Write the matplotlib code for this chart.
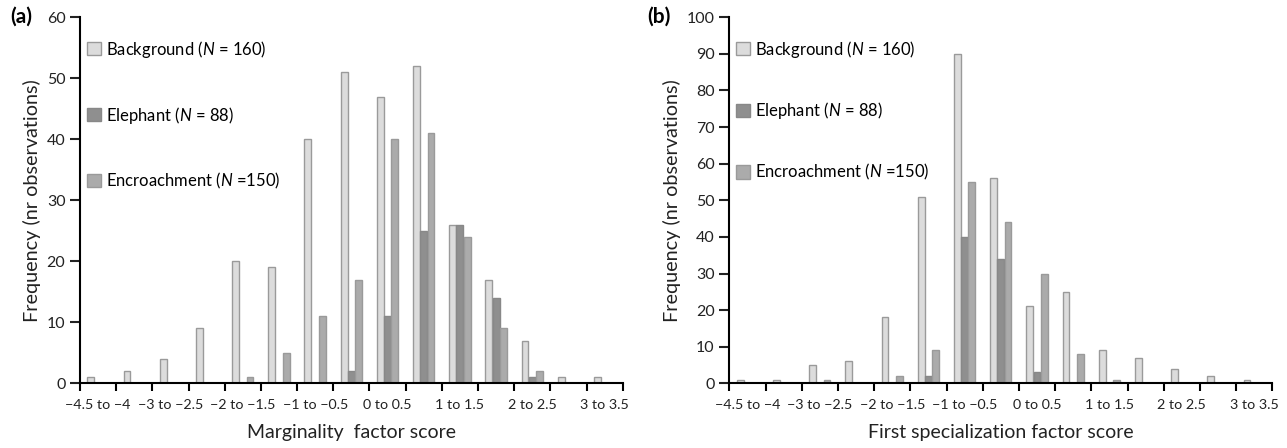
import matplotlib.pyplot as plt
import numpy as np

plt.rcParams['font.family'] = ['Lato', 'DejaVu Sans']
plt.rcParams['mathtext.fontset'] = 'custom'
plt.rcParams['mathtext.it'] = 'Lato:italic'
plt.rcParams['mathtext.rm'] = 'Lato'

# score classes (only every other one is labelled on the axis)
categories = ["\u22124.5 to \u22124", "\u22123.5 to \u22123", "\u22123 to \u22122.5", "\u22122.5 to \u22122",
              "\u22122 to \u22121.5", "\u22121.5 to \u22121", "\u22121 to \u22120.5", "\u22120.5 to 0",
              "0 to 0.5", "0.5 to 1", "1 to 1.5", "1.5 to 2", "2 to 2.5", "2.5 to 3", "3 to 3.5"]

# (a) marginality
marg_background = [1, 2, 4, 9, 20, 19, 40, 51, 47, 52, 26, 17, 7, 1, 1]
marg_elephant = [0, 0, 0, 0, 0, 0, 0, 2, 11, 25, 26, 14, 1, 0, 0]
marg_encroach = [0, 0, 0, 0, 1, 5, 11, 17, 40, 41, 24, 9, 2, 0, 0]

# (b) first specialization
spec_background = [1, 1, 5, 6, 18, 51, 90, 56, 21, 25, 9, 7, 4, 2, 1]
spec_elephant = [0, 0, 0, 0, 0, 2, 40, 34, 3, 0, 0, 0, 0, 0, 0]
spec_encroach = [0, 0, 1, 0, 2, 9, 55, 44, 30, 8, 1, 0, 0, 0, 0]

series_labels = ["Background ($\\mathit{N}$ = 160)", "Elephant ($\\mathit{N}$ = 88)",
                 "Encroachment ($\\mathit{N}$ =150)"]
face_colors = ["#dcdcdc", "#8f8f8f", "#ababab"]
edge_colors = ["#9a9a9a", "#888888", "#9a9a9a"]

fig = plt.figure(figsize=(12.87, 4.48), dpi=100)
ax_a = fig.add_axes([80 / 1287, 1 - 383.3 / 448, 542.7 / 1287, 366 / 448])
ax_b = fig.add_axes([729.3 / 1287, 1 - 383.3 / 448, 543 / 1287, 366 / 448])


def draw_panel(ax, data, ymax, ystep, xlabel, spacing):
    x = np.arange(len(categories))
    w = 0.2
    for i, vals in enumerate(data):
        ax.bar(x + (i - 1) * w, vals, width=w * 0.95, color=face_colors[i],
               edgecolor=edge_colors[i], linewidth=1.0, label=series_labels[i])
    ax.set_xlim(-0.5, len(categories) - 0.5)
    ax.set_ylim(0, ymax)
    ax.set_yticks(np.arange(0, ymax + 1, ystep))
    # ticks on the class boundaries, labels on every other class
    ax.set_xticks(np.arange(-0.5, len(categories)), minor=False)
    ax.set_xticklabels([])
    ax.set_xticks(x[::2], minor=True)
    ax.set_xticklabels([categories[k] for k in x[::2]], minor=True)
    ax.tick_params(axis='x', which='major', direction='out', length=6, width=1.5)
    ax.tick_params(axis='x', which='minor', length=0, pad=11, labelsize=10.3, colors='#222222')
    ax.tick_params(axis='y', direction='out', length=7, width=1.5, labelsize=11.5,
                   colors='#222222')
    for s in ['top', 'right']:
        ax.spines[s].set_visible(False)
    for s in ['left', 'bottom']:
        ax.spines[s].set_linewidth(1.5)
    ax.set_ylabel("Frequency (nr observations)", fontsize=14.3, color='#222222')
    ax.set_xlabel(xlabel, fontsize=14, color='#222222', labelpad=10)
    ax.legend(loc='upper left', bbox_to_anchor=(0.0, 0.96), frameon=False, fontsize=12,
              handlelength=0.85, handleheight=0.85, handletextpad=0.3,
              labelspacing=spacing, borderaxespad=0.0)


draw_panel(ax_a, [marg_background, marg_elephant, marg_encroach], 60, 10,
           "Marginality  factor score", 2.7)
draw_panel(ax_b, [spec_background, spec_elephant, spec_encroach], 100, 10,
           "First specialization factor score", 2.45)

fig.text(10 / 1287, 1 - 17 / 448, "(a)", fontsize=15, fontweight='bold', va='center', ha='left')
fig.text(647 / 1287, 1 - 17 / 448, "(b)", fontsize=15, fontweight='bold', va='center', ha='left')

fig.savefig("out.png", dpi=100)
